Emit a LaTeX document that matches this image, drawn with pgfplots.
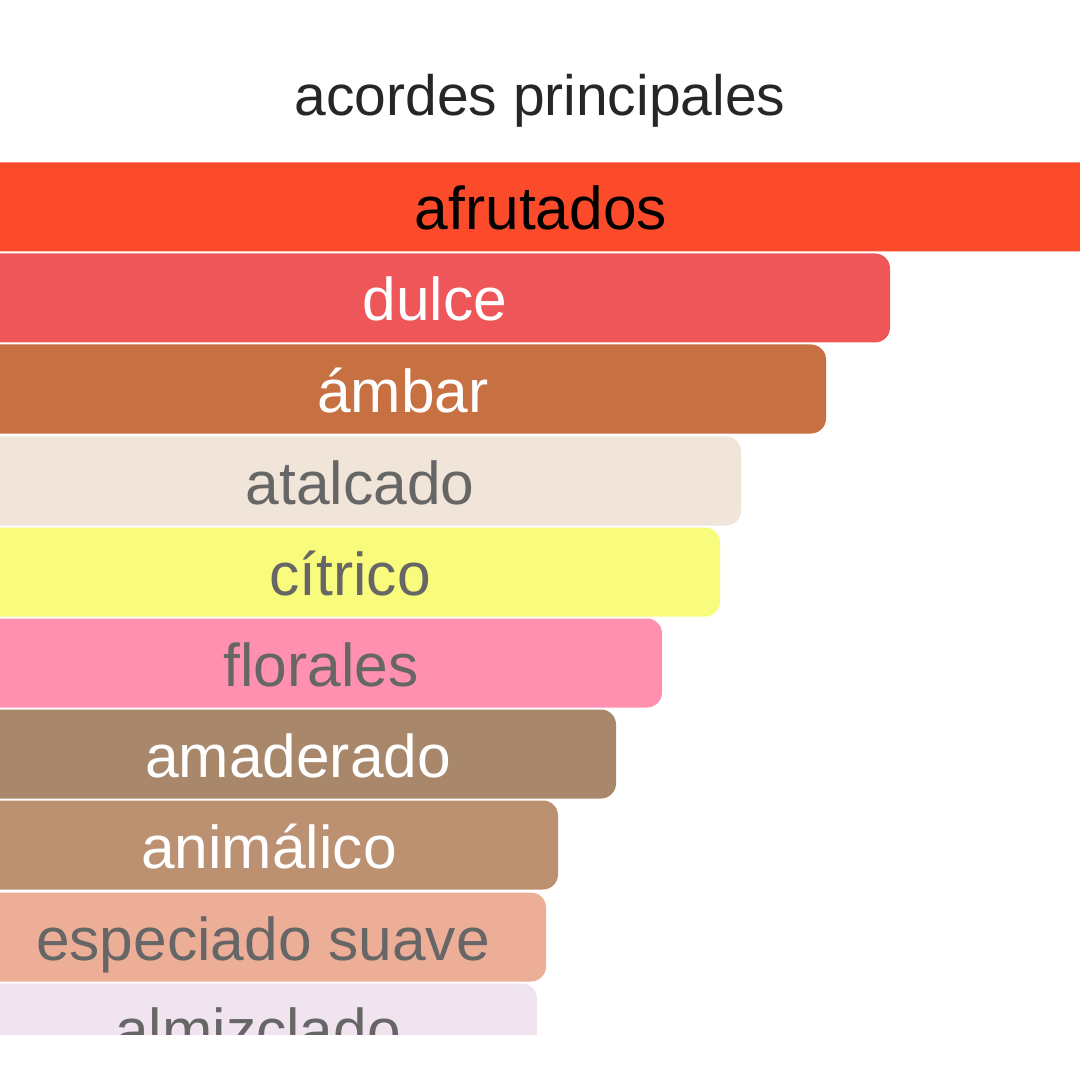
\documentclass[border=0pt]{standalone}
\usepackage{pgfplots}
\pgfplotsset{compat=1.18}
\usepackage{fontspec}
\setmainfont{Liberation Sans}

\definecolor{cfrut}{HTML}{FC4B2A}
\definecolor{cdulce}{HTML}{EF565A}
\definecolor{cambar}{HTML}{C77142}
\definecolor{catal}{HTML}{F1E5DA}
\definecolor{ccitr}{HTML}{F9FB7C}
\definecolor{cflor}{HTML}{FF90B0}
\definecolor{camad}{HTML}{A8876A}
\definecolor{canim}{HTML}{BC9172}
\definecolor{cespe}{HTML}{EDAE98}
\definecolor{calmi}{HTML}{F0E4F1}
\definecolor{lbgray}{HTML}{666666}

\tikzset{lbl/.style={anchor=base, font=\fontsize{17.2}{20}\selectfont}}

\begin{document}
\begin{tikzpicture}
\clip (0,0) rectangle (10.8,10.8);
\path[use as bounding box] (0,0) rectangle (10.8,10.8);
\fill[white] (0,0) rectangle (10.8,10.8);
% the axis starts 20 px left of the picture, so the bars' left ends are cut off
\begin{axis}[
    at={(-0.2cm,0)}, anchor=south west,
    scale only axis,
    width=11.4cm, height=10.8cm,
    xmin=0, xmax=1140,
    ymin=0, ymax=1080,
    y dir=reverse,
    hide axis,
    clip=true,
    xbar,
    bar width=0.89cm,
    bar shift=0pt,
    every axis plot/.append style={draw=none, rounded corners=0.15cm},
]
\addplot[fill=cfrut]  coordinates {(1122,207)};
\addplot[fill=cdulce] coordinates {(910,298)};
\addplot[fill=cambar] coordinates {(846,389)};
\addplot[fill=catal]  coordinates {(761,481)};
\addplot[fill=ccitr]  coordinates {(740,572)};
\addplot[fill=cflor]  coordinates {(682,663)};
\addplot[fill=camad]  coordinates {(636,754)};
\addplot[fill=canim]  coordinates {(578,845)};
\addplot[fill=cespe]  coordinates {(566,937)};
\addplot[fill=calmi]  coordinates {(557,1028)};

\node[lbl, text=black]  at (axis cs:561,230) {afrutados};
\node[lbl, text=white]  at (axis cs:455,321) {dulce};
\node[lbl, text=white]  at (axis cs:423,412) {ámbar};
\node[lbl, text=lbgray] at (axis cs:380,504) {atalcado};
\node[lbl, text=lbgray] at (axis cs:370,595) {cítrico};
\node[lbl, text=lbgray] at (axis cs:341,686) {florales};
\node[lbl, text=white]  at (axis cs:318,777) {amaderado};
\node[lbl, text=white]  at (axis cs:289,868) {animálico};
\node[lbl, text=lbgray] at (axis cs:283,960) {especiado suave};
\node[lbl, text=lbgray] at (axis cs:278,1051) {almizclado};

\fill[white] (axis cs:0,1035) rectangle (axis cs:1140,1080);
\end{axis}
\node[anchor=base, text=black!85, font=\fontsize{16.2}{19}\selectfont]
    at (5.4,9.64) {acordes principales};
\end{tikzpicture}
\end{document}
